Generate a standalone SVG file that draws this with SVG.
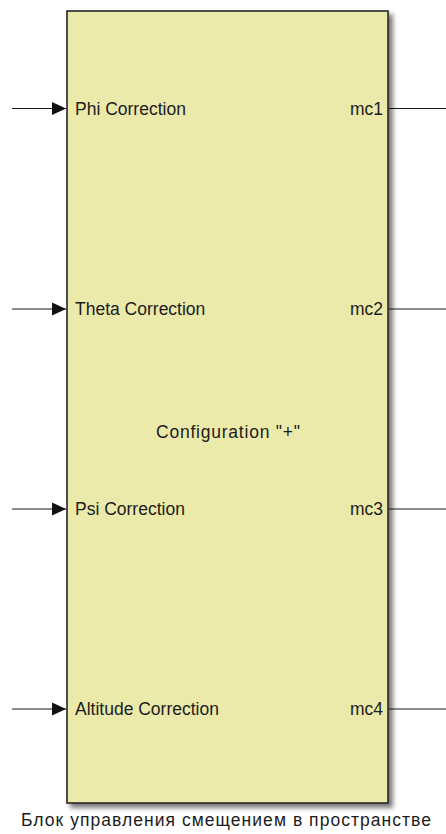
<svg xmlns="http://www.w3.org/2000/svg" width="446" height="834" viewBox="0 0 446 834">
  <style>
    .lbl { font-family: "Liberation Sans", Arial, sans-serif; font-size: 17.5px; fill: #1c1c1c; }
    .wire { stroke: #1a1a1a; stroke-width: 1.2; fill: none; }
    .blk { fill: #ebeaab; stroke: #262626; stroke-width: 1.6; }
  </style>
  <defs>
    <filter id="shadow" x="-10%" y="-5%" width="125%" height="115%">
      <feGaussianBlur in="SourceAlpha" stdDeviation="2.5"/>
      <feOffset dx="4" dy="4" result="b"/>
      <feComponentTransfer><feFuncA type="linear" slope="0.55"/></feComponentTransfer>
      <feMerge><feMergeNode/><feMergeNode in="SourceGraphic"/></feMerge>
    </filter>
    <marker id="arr" markerWidth="14" markerHeight="14" refX="14" refY="7" orient="auto" markerUnits="userSpaceOnUse">
      <path d="M0,0.5 L14,7 L0,13.5 Z" fill="#111"/>
    </marker>
  </defs>

  <rect width="446" height="834" fill="#ffffff"/>

  <!-- signal lines -->
  <g id="connectors">
    <line class="wire" x1="12" y1="108.5" x2="66" y2="108.5" marker-end="url(#arr)"/>
    <line class="wire" x1="12" y1="309" x2="66" y2="309" marker-end="url(#arr)"/>
    <line class="wire" x1="12" y1="509" x2="66" y2="509" marker-end="url(#arr)"/>
    <line class="wire" x1="12" y1="709" x2="66" y2="709" marker-end="url(#arr)"/>
    <line class="wire" x1="389" y1="108.5" x2="446" y2="108.5"/>
    <line class="wire" x1="389" y1="309" x2="446" y2="309"/>
    <line class="wire" x1="389" y1="509" x2="446" y2="509"/>
    <line class="wire" x1="389" y1="709" x2="446" y2="709"/>
  </g>

  <!-- subsystem block -->
  <g id="motion-control-block">
    <rect class="blk" x="67" y="11" width="321" height="792" filter="url(#shadow)"/>
    <text class="lbl" x="75" y="114.5">Phi Correction</text>
    <text class="lbl" x="75" y="315">Theta Correction</text>
    <text class="lbl" x="75" y="515">Psi Correction</text>
    <text class="lbl" x="75" y="715">Altitude Correction</text>
    <text class="lbl" x="383" y="114.5" text-anchor="end">mc1</text>
    <text class="lbl" x="383" y="315" text-anchor="end">mc2</text>
    <text class="lbl" x="383" y="515" text-anchor="end">mc3</text>
    <text class="lbl" x="383" y="715" text-anchor="end">mc4</text>
    <text class="lbl" x="228" y="438" text-anchor="middle" textLength="144" lengthAdjust="spacing">Configuration "+"</text>
    <text class="lbl" x="226" y="826" text-anchor="middle" textLength="410" lengthAdjust="spacing">Блок управления смещением в пространстве</text>
  </g>
</svg>
